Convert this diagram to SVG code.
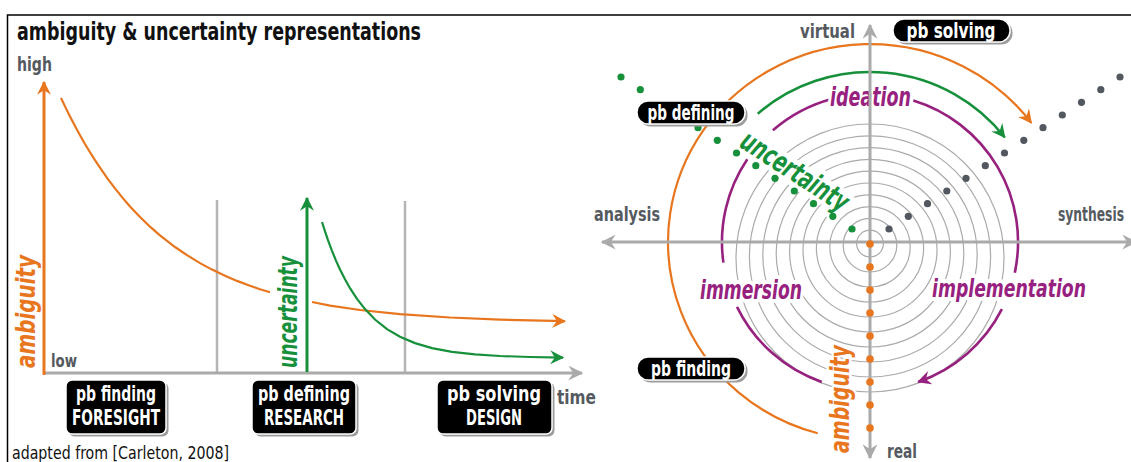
<svg xmlns="http://www.w3.org/2000/svg" width="1131" height="462" viewBox="0 0 1131 462">
<style>
.f{font-family:"Liberation Sans Narrow","DejaVu Sans Condensed","Liberation Sans",Arial,sans-serif;font-weight:bold}
.g{fill:#555a5f}
.w{fill:#fff}
.it{font-style:italic}
.halo{stroke:#fff;stroke-width:8;stroke-linejoin:round;paint-order:stroke}
.ax{stroke:#aaaaaa;stroke-width:3;fill:none}
.ring{stroke:#ababab;stroke-width:1.2;fill:none}
.pu{stroke:#97217e;stroke-width:2.6;fill:none}
.or{stroke:#e8761e;fill:none}
.gr{stroke:#17903b;fill:none}
.box{fill:#000;stroke:#fff;stroke-width:1.5}
.sh{fill:#9c9c9c}
</style>
<defs>
<marker id="ag" viewBox="0 0 12 12" refX="11" refY="6" markerWidth="15" markerHeight="15" markerUnits="userSpaceOnUse" orient="auto-start-reverse"><path d="M0,0 L12,6 L0,12 L4,6 Z" fill="#aaaaaa"/></marker>
<marker id="ao" viewBox="0 0 12 12" refX="11" refY="6" markerWidth="14" markerHeight="14" markerUnits="userSpaceOnUse" orient="auto"><path d="M0,0 L12,6 L0,12 L4,6 Z" fill="#e8761e"/></marker>
<marker id="agr" viewBox="0 0 12 12" refX="11" refY="6" markerWidth="14" markerHeight="14" markerUnits="userSpaceOnUse" orient="auto"><path d="M0,0 L12,6 L0,12 L4,6 Z" fill="#17903b"/></marker>
<marker id="apu" viewBox="0 0 12 12" refX="11" refY="6" markerWidth="14" markerHeight="14" markerUnits="userSpaceOnUse" orient="auto"><path d="M0,0 L12,6 L0,12 L4,6 Z" fill="#97217e"/></marker>
</defs>
<rect width="1131" height="462" fill="#fff"/>
<path d="M7.5,462 V15 H1131" fill="none" stroke="#000" stroke-width="1.5"/>
<text class="f" x="17" y="40" font-size="25" fill="#111" textLength="404" lengthAdjust="spacingAndGlyphs">ambiguity &amp; uncertainty representations</text>

<!-- left chart -->
<g id="left-chart">
<text class="f g" x="17" y="71" font-size="20" textLength="35" lengthAdjust="spacingAndGlyphs">high</text>
<text class="f g" x="51" y="367" font-size="18" textLength="26" lengthAdjust="spacingAndGlyphs">low</text>
<text class="f g" x="557" y="404" font-size="20" textLength="39" lengthAdjust="spacingAndGlyphs">time</text>
<line x1="217" y1="200" x2="217" y2="373" stroke="#b5b5b5" stroke-width="2.5"/>
<line x1="405" y1="201" x2="405" y2="373" stroke="#b5b5b5" stroke-width="2.5"/>
<text class="f it" transform="translate(35,368) rotate(-90)" font-size="27" fill="#e8761e" textLength="113" lengthAdjust="spacingAndGlyphs">ambiguity</text>
<text class="f it" transform="translate(297,368) rotate(-90)" font-size="27" fill="#17903b" textLength="112" lengthAdjust="spacingAndGlyphs">uncertainty</text>
</g>

<g id="connectors-left">
<line class="ax" x1="44" y1="373" x2="582" y2="373" marker-end="url(#ag)"/>
<line class="or" stroke-width="3" x1="44" y1="375" x2="44" y2="82" marker-end="url(#ao)"/>
<line class="gr" stroke-width="3" x1="307" y1="372" x2="307" y2="198" marker-end="url(#agr)"/>
<path class="or" stroke-width="2.2" d="M61,98 L65,106.4 L70,116.5 L75,126.1 L80,135.2 L85,144 L90,152.3 L95,160.2 L100,167.7 L107,177.8 L115,188.4 L122,197.1 L130,206.4 L140,217 L150,226.7 L160,235.4 L175,247 L187,255.2 L200,263.1 L212,269.6 L225,275.8 L237,280.9 L250,285.8 L260,289.2 L270,292.2"/>
<path class="or" stroke-width="2.2" d="M312,302 L330,305.6 L360,310 L400,314.1 L450,317.5 L500,319.6 L565,321.2" marker-end="url(#ao)"/>
<path class="gr" stroke-width="2.2" d="M322,222 L325,231.4 L328,240.1 L332,250.8 L336,260.6 L340,269.4 L345,279.3 L350,288.2 L357,298.9 L365,309.1 L375,319.5 L387,329.1 L400,336.8 L415,343.1 L432,348.1 L452,351.8 L475,354.4 L500,356 L530,357 L563,357.6" marker-end="url(#agr)"/>
</g>

<g id="box-finding">
<rect class="sh" x="68.5" y="382.5" width="100" height="54" rx="6"/>
<rect class="box" x="66" y="380" width="100" height="54" rx="6"/>
<text class="f w" x="116" y="401" font-size="21" text-anchor="middle" textLength="80" lengthAdjust="spacingAndGlyphs">pb finding</text>
<text class="f w" x="116" y="425" font-size="21" text-anchor="middle" textLength="88" lengthAdjust="spacingAndGlyphs">FORESIGHT</text>
</g>
<g id="box-defining">
<rect class="sh" x="254.5" y="382.5" width="104" height="54" rx="6"/>
<rect class="box" x="252" y="380" width="104" height="54" rx="6"/>
<text class="f w" x="304" y="401" font-size="21" text-anchor="middle" textLength="92" lengthAdjust="spacingAndGlyphs">pb defining</text>
<text class="f w" x="304" y="425" font-size="21" text-anchor="middle" textLength="80" lengthAdjust="spacingAndGlyphs">RESEARCH</text>
</g>
<g id="box-solving">
<rect class="sh" x="439.5" y="382.5" width="115" height="54" rx="6"/>
<rect class="box" x="437" y="380" width="115" height="54" rx="6"/>
<text class="f w" x="494" y="401" font-size="21" text-anchor="middle" textLength="94" lengthAdjust="spacingAndGlyphs">pb solving</text>
<text class="f w" x="494" y="425" font-size="21" text-anchor="middle" textLength="56" lengthAdjust="spacingAndGlyphs">DESIGN</text>
</g>
<text x="12" y="459" font-size="18" fill="#111" font-family="'Liberation Sans Narrow','DejaVu Sans Condensed','Liberation Sans',Arial,sans-serif" textLength="217" lengthAdjust="spacingAndGlyphs">adapted from [Carleton, 2008]</text>

<!-- right chart -->
<g id="rings">
<circle class="ring" cx="870" cy="243.6" r="13.4"/>
<circle class="ring" cx="870" cy="245.2" r="26.8"/>
<circle class="ring" cx="870" cy="246.8" r="40.2"/>
<circle class="ring" cx="870" cy="248.4" r="53.6"/>
<circle class="ring" cx="870" cy="250" r="67"/>
<circle class="ring" cx="870" cy="251.6" r="80.4"/>
<circle class="ring" cx="870" cy="253.2" r="93.8"/>
<circle class="ring" cx="870" cy="254.8" r="107.2"/>
<circle class="ring" cx="870" cy="256.4" r="120.6"/>
<circle class="ring" cx="870" cy="258" r="134"/>
</g>
<g id="connectors-right">
<path class="pu" d="M772.9,130.3 A148,148 0 0 1 831.7,99"/>
<path class="pu" d="M913.3,100.5 A148,148 0 0 1 1014.8,272.8"/>
<path class="pu" d="M1001.9,309.2 A148,148 0 0 1 918.2,381.9" marker-end="url(#apu)"/>
<path class="pu" d="M747.3,159.2 A148,148 0 0 0 723.4,262.6"/>
<path class="pu" d="M737,306.9 A148,148 0 0 0 821.8,381.9"/>
<path class="gr" stroke-width="2.5" d="M757.8,113.7 A171,170 0 0 1 1004.7,137.3" marker-end="url(#agr)"/>
<path class="or" stroke-width="2.2" d="M817.7,433.3 A202,198 0 1 1 1031.3,122.8" marker-end="url(#ao)"/>
</g>
<g id="phase-labels">
<text class="f it halo" x="830" y="106" font-size="27" fill="#97217e" textLength="81" lengthAdjust="spacingAndGlyphs">ideation</text>
<text class="f it halo" x="700" y="299" font-size="26" fill="#97217e" textLength="102" lengthAdjust="spacingAndGlyphs">immersion</text>
<text class="f it halo" x="932" y="297" font-size="25" fill="#97217e" textLength="154" lengthAdjust="spacingAndGlyphs">implementation</text>
<text class="f it halo" transform="translate(738,146) rotate(33)" font-size="29" fill="#17903b" textLength="123" lengthAdjust="spacingAndGlyphs" style="stroke-width:10">uncertainty</text>
<text class="f it halo" transform="translate(849,453) rotate(-90)" font-size="27" fill="#e8761e" textLength="108" lengthAdjust="spacingAndGlyphs" style="stroke-width:5">ambiguity</text>
</g>
<g id="axes-right">
<line class="ax" x1="602" y1="242" x2="1136" y2="242" marker-start="url(#ag)" marker-end="url(#ag)"/>
<line class="ax" x1="870" y1="25" x2="870" y2="458" marker-start="url(#ag)" marker-end="url(#ag)"/>
</g>
<g id="axis-labels">
<text class="f g" x="800" y="38" font-size="20" textLength="55" lengthAdjust="spacingAndGlyphs">virtual</text>
<text class="f g" x="594" y="221" font-size="20" textLength="66" lengthAdjust="spacingAndGlyphs">analysis</text>
<text class="f g" x="1058" y="221" font-size="20" textLength="66" lengthAdjust="spacingAndGlyphs">synthesis</text>
<text class="f g" x="887" y="458" font-size="20" textLength="30" lengthAdjust="spacingAndGlyphs">real</text>
</g>
<g id="dots-green" fill="#17903b">
<circle cx="621" cy="77" r="3.6"/><circle cx="640.3" cy="89.7" r="3.6"/>
<circle cx="698" cy="127.7" r="3.6"/><circle cx="717.3" cy="140.3" r="3.6"/><circle cx="736.5" cy="153" r="3.6"/><circle cx="755.8" cy="165.7" r="3.6"/><circle cx="775" cy="178.3" r="3.6"/><circle cx="794.3" cy="191" r="3.6"/><circle cx="813.5" cy="203.7" r="3.6"/><circle cx="832.8" cy="216.3" r="3.6"/><circle cx="852" cy="229" r="3.6"/>
</g>
<g id="dots-gray" fill="#525860">
<circle cx="889" cy="229" r="3.6"/><circle cx="908.3" cy="216.3" r="3.6"/><circle cx="927.5" cy="203.7" r="3.6"/><circle cx="946.8" cy="191" r="3.6"/><circle cx="966" cy="178.3" r="3.6"/><circle cx="985.3" cy="165.7" r="3.6"/><circle cx="1004.5" cy="153" r="3.6"/><circle cx="1023.8" cy="140.3" r="3.6"/><circle cx="1043" cy="127.7" r="3.6"/><circle cx="1062.3" cy="115" r="3.6"/><circle cx="1081.5" cy="102.3" r="3.6"/><circle cx="1100.8" cy="89.7" r="3.6"/><circle cx="1120" cy="77" r="3.6"/>
</g>
<g id="dots-orange" fill="#e8761e">
<circle cx="870" cy="244" r="3.8"/><circle cx="870" cy="267" r="3.8"/><circle cx="870" cy="290" r="3.8"/><circle cx="870" cy="313" r="3.8"/><circle cx="870" cy="336" r="3.8"/><circle cx="870" cy="359" r="3.8"/><circle cx="870" cy="382" r="3.8"/><circle cx="870" cy="405" r="3.8"/><circle cx="870" cy="428" r="3.8"/>
</g>
<g id="pill-solving">
<rect class="sh" x="895.5" y="21.5" width="117" height="23" rx="11"/>
<rect class="box" x="893" y="19" width="117" height="23" rx="11"/>
<text class="f w" x="951" y="38" font-size="21" text-anchor="middle" textLength="89" lengthAdjust="spacingAndGlyphs">pb solving</text>
</g>
<g id="pill-defining">
<rect class="sh" x="639.5" y="103.5" width="108" height="23" rx="11"/>
<rect class="box" x="637" y="101" width="108" height="23" rx="11"/>
<text class="f w" x="691" y="120" font-size="21" text-anchor="middle" textLength="87" lengthAdjust="spacingAndGlyphs">pb defining</text>
</g>
<g id="pill-finding">
<rect class="sh" x="639.5" y="359.5" width="108" height="23" rx="11"/>
<rect class="box" x="637" y="357" width="108" height="23" rx="11"/>
<text class="f w" x="691" y="376" font-size="21" text-anchor="middle" textLength="80" lengthAdjust="spacingAndGlyphs">pb finding</text>
</g>
</svg>
